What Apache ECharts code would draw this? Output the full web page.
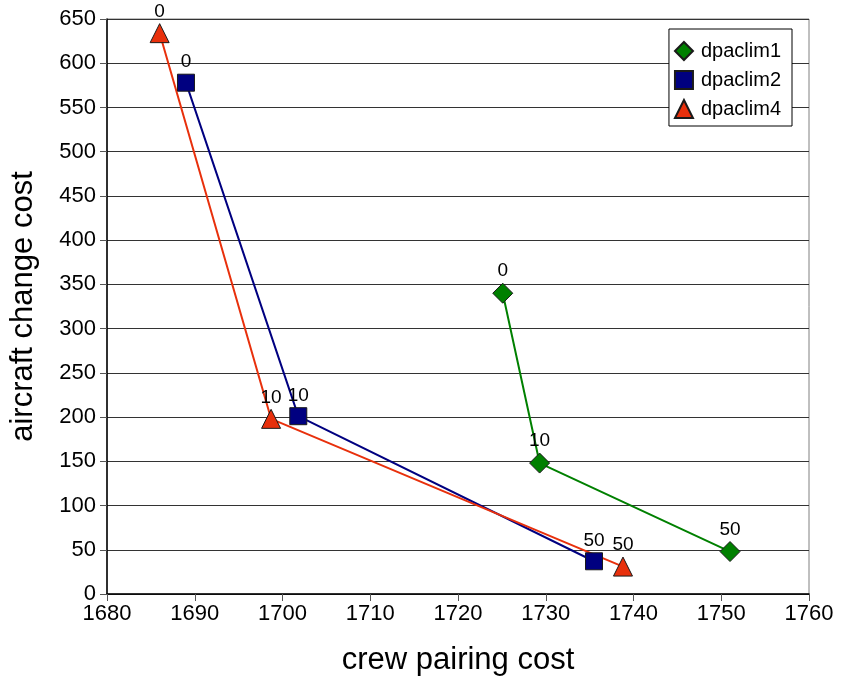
<!DOCTYPE html>
<html>
<head>
<meta charset="utf-8">
<script src="https://cdn.jsdelivr.net/npm/echarts@6/dist/echarts.min.js"></script>
<style>
  html, body { margin: 0; padding: 0; background: #fff; }
  #chart { width: 842px; height: 681px; }
</style>
</head>
<body>
<div id="chart"></div>
<script>
// Penalty levels shown beside each point
const levels = ['0', '10', '50'];

// crew pairing cost (x) and aircraft change cost (y) per run
const dpaclim1X = [1725.1, 1729.3, 1751.0];
const dpaclim1Y = [340, 148, 48];
const dpaclim2X = [1689.0, 1701.8, 1735.5];
const dpaclim2Y = [578, 201, 37];
const dpaclim4X = [1686.0, 1698.7, 1738.8];
const dpaclim4Y = [634, 198, 31];

const xTicks = [1680, 1690, 1700, 1710, 1720, 1730, 1740, 1750, 1760];
const yTicks = [0, 50, 100, 150, 200, 250, 300, 350, 400, 450, 500, 550, 600, 650];

const font = '"Liberation Sans", Arial, sans-serif';

function pairs(xs, ys) {
  return xs.map((x, i) => [x, ys[i], levels[i]]);
}

function makeSeries(name, xs, ys, color, symbol, size) {
  return {
    name: name,
    type: 'line',
    data: pairs(xs, ys),
    symbol: symbol,
    symbolSize: size,
    lineStyle: { color: color, width: 2 },
    itemStyle: { color: color, borderColor: '#1a1a1a', borderWidth: 1 },
    label: {
      show: true,
      position: 'top',
      distance: 2,
      formatter: p => p.data[2],
      color: '#000',
      fontFamily: font,
      fontSize: 19
    },
    emphasis: { disabled: true },
    animation: false,
    z: 3
  };
}

const chart = echarts.init(document.getElementById('chart'), null, { renderer: 'canvas' });

chart.setOption({
  backgroundColor: '#fff',
  animation: false,
  grid: {
    left: 104, right: 33, top: 19, bottom: 87,
    show: true, borderColor: '#808080', borderWidth: 1
  },
  legend: {
    orient: 'vertical',
    right: 50, top: 29,
    padding: [11, 11, 6, 5],
    itemWidth: 18, itemHeight: 18, itemGap: 7,
    backgroundColor: '#fff',
    borderColor: '#000', borderWidth: 1,
    textStyle: { fontFamily: font, fontSize: 20, color: '#000', lineHeight: 22, padding: [0, 0, 0, 3] },
    data: [
      { name: 'dpaclim1', icon: 'diamond' },
      { name: 'dpaclim2', icon: 'rect' },
      { name: 'dpaclim4', icon: 'triangle' }
    ]
  },
  xAxis: {
    type: 'value',
    min: xTicks[0], max: xTicks[xTicks.length - 1], interval: 10,
    name: 'crew pairing cost',
    nameLocation: 'middle', nameGap: 51,
    nameTextStyle: { fontFamily: font, fontSize: 31, color: '#000' },
    axisLine: { show: true, lineStyle: { color: '#000', width: 1.5 } },
    axisTick: { show: true, inside: false, length: 7, lineStyle: { color: '#555' } },
    axisLabel: { fontFamily: font, fontSize: 22, color: '#000', margin: 9, formatter: v => String(v) },
    splitLine: { show: false }
  },
  yAxis: {
    type: 'value',
    min: yTicks[0], max: yTicks[yTicks.length - 1], interval: 50,
    name: 'aircraft change cost',
    nameLocation: 'middle', nameGap: 68,
    nameTextStyle: { fontFamily: font, fontSize: 31, color: '#000' },
    axisLine: { show: true, lineStyle: { color: '#000', width: 1.5 } },
    axisTick: { show: true, inside: false, length: 7, lineStyle: { color: '#555' } },
    axisLabel: { fontFamily: font, fontSize: 22, color: '#000', margin: 11 },
    splitLine: { show: true, lineStyle: { color: '#333', width: 1 } }
  },
  series: [
    makeSeries('dpaclim1', dpaclim1X, dpaclim1Y, '#008000', 'diamond', 20),
    makeSeries('dpaclim2', dpaclim2X, dpaclim2Y, '#000080', 'rect', 17),
    makeSeries('dpaclim4', dpaclim4X, dpaclim4Y, '#e8300c', 'triangle', 19)
  ]
});
</script>
</body>
</html>
